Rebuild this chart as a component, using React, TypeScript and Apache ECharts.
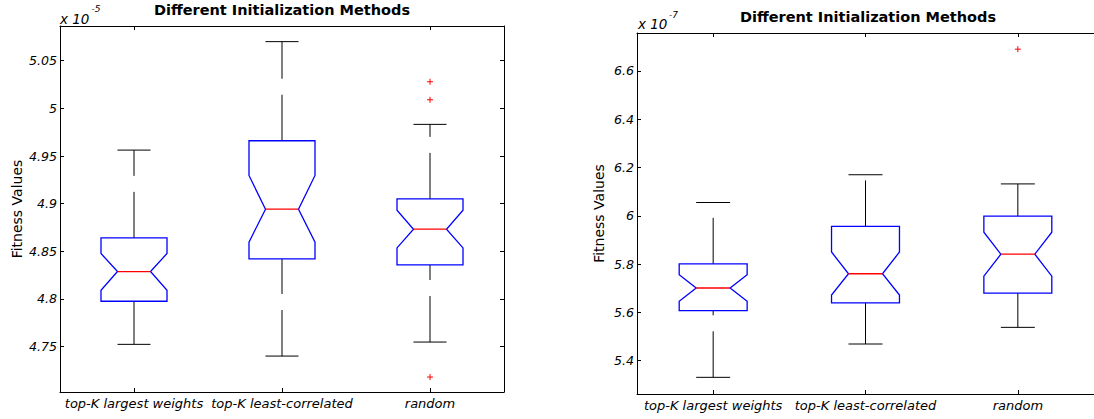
import React, { useEffect, useRef } from "react";
import * as echarts from "echarts";

// ---------- data ----------
const categories = ["top-K largest weights", "top-K least-correlated", "random"];

// left panel (x 10^-5)
const leftLowerWhisker = [4.7524, 4.7401, 4.7548];
const leftQ1 = [4.7976, 4.842, 4.8357];
const leftNotchLow = [4.8091, 4.8596, 4.8536];
const leftMedian = [4.8288, 4.8942, 4.8732];
const leftNotchHigh = [4.8477, 4.9296, 4.8932];
const leftQ3 = [4.8641, 4.966, 4.905];
const leftUpperWhisker = [4.9562, 5.07, 4.9832];
const leftOutliers = [
  [2, 5.0279],
  [2, 5.009],
  [2, 4.7181],
];
const leftTicks = [4.75, 4.8, 4.85, 4.9, 4.95, 5, 5.05];
const leftRange = [4.7024, 5.0864];

// right panel (x 10^-7)
const rightLowerWhisker = [5.331, 5.469, 5.538];
const rightQ1 = [5.607, 5.639, 5.68];
const rightNotchLow = [5.646, 5.672, 5.75];
const rightMedian = [5.701, 5.76, 5.841];
const rightNotchHigh = [5.756, 5.85, 5.932];
const rightQ3 = [5.801, 5.956, 5.999];
const rightUpperWhisker = [6.055, 6.17, 6.132];
const rightOutliers = [[2, 6.69]];
const rightTicks = [5.4, 5.6, 5.8, 6, 6.2, 6.4, 6.6];
const rightRange = [5.262, 6.757];

const titleText = "Different Initialization Methods";
const yName = "Fitness Values";

// ---------- helpers ----------
const FONT = "DejaVu Sans";

function boxRows(lo: number[], q1: number[], nl: number[], md: number[], nh: number[], q3: number[], hi: number[]) {
  return categories.map((_, i) => [i, lo[i], q1[i], nl[i], md[i], nh[i], q3[i], hi[i]]);
}

const renderBox = (params: any, api: any) => {
  const idx = api.value(0);
  const lo = api.value(1);
  const q1 = api.value(2);
  const nl = api.value(3);
  const md = api.value(4);
  const nh = api.value(5);
  const q3 = api.value(6);
  const hi = api.value(7);
  const band = api.size([1, 0])[0];
  const hw = band * 0.223;
  const nw = hw / 2;
  const x = api.coord([idx, md])[0];
  const y = (v: number) => api.coord([idx, v])[1];
  const whisker = { stroke: "#000", lineWidth: 1, lineDash: [46, 16] };
  const cap = { stroke: "#000", lineWidth: 1 };
  const pts = [
    [x - hw, y(q1)],
    [x - hw, y(nl)],
    [x - nw, y(md)],
    [x - hw, y(nh)],
    [x - hw, y(q3)],
    [x + hw, y(q3)],
    [x + hw, y(nh)],
    [x + nw, y(md)],
    [x + hw, y(nl)],
    [x + hw, y(q1)],
  ];
  return {
    type: "group",
    children: [
      { type: "line", shape: { x1: x, y1: y(q3), x2: x, y2: y(hi) }, style: whisker },
      { type: "line", shape: { x1: x, y1: y(lo), x2: x, y2: y(q1) }, style: whisker },
      { type: "line", shape: { x1: x - nw, y1: y(hi), x2: x + nw, y2: y(hi) }, style: cap },
      { type: "line", shape: { x1: x - nw, y1: y(lo), x2: x + nw, y2: y(lo) }, style: cap },
      { type: "polygon", shape: { points: pts }, style: { fill: "none", stroke: "#0000ff", lineWidth: 1.3 } },
      { type: "line", shape: { x1: x - nw, y1: y(md), x2: x + nw, y2: y(md) }, style: { stroke: "#ff0000", lineWidth: 1.3 } },
    ],
  };
};

const renderOutlier = (params: any, api: any) => {
  const p = api.coord([api.value(0), api.value(1)]);
  const s = 3;
  const st = { stroke: "#ff0000", lineWidth: 1 };
  return {
    type: "group",
    children: [
      { type: "line", shape: { x1: p[0] - s, y1: p[1], x2: p[0] + s, y2: p[1] }, style: st },
      { type: "line", shape: { x1: p[0], y1: p[1] - s, x2: p[0], y2: p[1] + s }, style: st },
    ],
  };
};

const fmt = (v: any) => String(+Number(v).toFixed(2));

function xAxes(gridIndex: number) {
  const base = {
    type: "category",
    data: categories,
    gridIndex,
    boundaryGap: true,
    axisLine: { show: true, onZero: false, lineStyle: { color: "#000", width: 1 } },
    axisTick: { show: true, inside: true, length: 4, alignWithLabel: true, lineStyle: { color: "#000" } },
    splitLine: { show: false },
  };
  return [
    {
      ...base,
      position: "bottom",
      axisLabel: {
        interval: 0,
        margin: 5,
        color: "#000",
        fontFamily: FONT,
        fontStyle: "italic",
        fontSize: 13,
      },
    },
    { ...base, position: "top", axisLabel: { show: false } },
  ];
}

function yAxes(gridIndex: number, range: number[], ticks: number[], nameGap: number, showRight: boolean) {
  const base = {
    type: "value",
    gridIndex,
    min: range[0],
    max: range[1],
    axisLine: { show: true, onZero: false, lineStyle: { color: "#000", width: 1 } },
    axisTick: { show: true, inside: true, length: 4, customValues: ticks, lineStyle: { color: "#000" } },
    splitLine: { show: false },
  };
  return [
    {
      ...base,
      position: "left",
      name: yName,
      nameLocation: "middle",
      nameGap,
      nameRotate: 90,
      nameTextStyle: { color: "#000", fontFamily: FONT, fontSize: 14 },
      axisLabel: {
        customValues: ticks,
        formatter: fmt,
        margin: 3,
        color: "#000",
        fontFamily: FONT,
        fontStyle: "italic",
        fontSize: 12.6,
      },
    },
    {
      ...base,
      position: "right",
      show: showRight,
      axisLabel: { show: false },
    },
  ];
}

function textEl(text: string, x: number, y: number, size: number, opts: any = {}) {
  return {
    type: "text",
    x,
    y,
    style: {
      text,
      fill: "#000",
      fontFamily: FONT,
      fontSize: size,
      fontWeight: opts.bold ? "bold" : "normal",
      fontStyle: opts.italic ? "italic" : "normal",
      textAlign: opts.align || "left",
      textVerticalAlign: "middle",
    },
  };
}

export default function App() {
  const ref = useRef<HTMLDivElement>(null);
  useEffect(() => {
    if (!ref.current) return;
    const chart = echarts.init(ref.current, null, { renderer: "svg" });
    const option: any = {
      animation: false,
      backgroundColor: "#fff",
      grid: [
        { left: 60, top: 26, width: 444, height: 366, containLabel: false },
        { left: 637, top: 33, width: 463, height: 361, containLabel: false },
      ],
      xAxis: [...xAxes(0), ...xAxes(1)],
      yAxis: [...yAxes(0, leftRange, leftTicks, 36, true), ...yAxes(1, rightRange, rightTicks, 31, false)],
      series: [
        {
          type: "custom",
          xAxisIndex: 0,
          yAxisIndex: 0,
          renderItem: renderBox,
          encode: { x: 0, y: [1, 2, 3, 4, 5, 6, 7] },
          data: boxRows(leftLowerWhisker, leftQ1, leftNotchLow, leftMedian, leftNotchHigh, leftQ3, leftUpperWhisker),
        },
        {
          type: "custom",
          xAxisIndex: 0,
          yAxisIndex: 0,
          renderItem: renderOutlier,
          encode: { x: 0, y: 1 },
          data: leftOutliers,
        },
        {
          type: "custom",
          xAxisIndex: 2,
          yAxisIndex: 2,
          renderItem: renderBox,
          encode: { x: 0, y: [1, 2, 3, 4, 5, 6, 7] },
          data: boxRows(rightLowerWhisker, rightQ1, rightNotchLow, rightMedian, rightNotchHigh, rightQ3, rightUpperWhisker),
        },
        {
          type: "custom",
          xAxisIndex: 2,
          yAxisIndex: 2,
          renderItem: renderOutlier,
          encode: { x: 0, y: 1 },
          data: rightOutliers,
        },
      ],
      graphic: [
        textEl(titleText, 282, 10, 14.5, { bold: true, align: "center" }),
        textEl(titleText, 868, 17, 14.5, { bold: true, align: "center" }),
        textEl("x 10", 60, 18.5, 13.5, { italic: true }),
        textEl("-5", 91.5, 8.5, 9, { italic: true }),
        textEl("x 10", 638, 24, 13.5, { italic: true }),
        textEl("-7", 669, 15, 9, { italic: true }),
      ],
    };
    chart.setOption(option);
    return () => chart.dispose();
  }, []);
  return (
    <div
      ref={ref}
      style={{ position: "fixed", left: 0, top: 0, width: 1094, height: 419, background: "#fff" }}
    />
  );
}
